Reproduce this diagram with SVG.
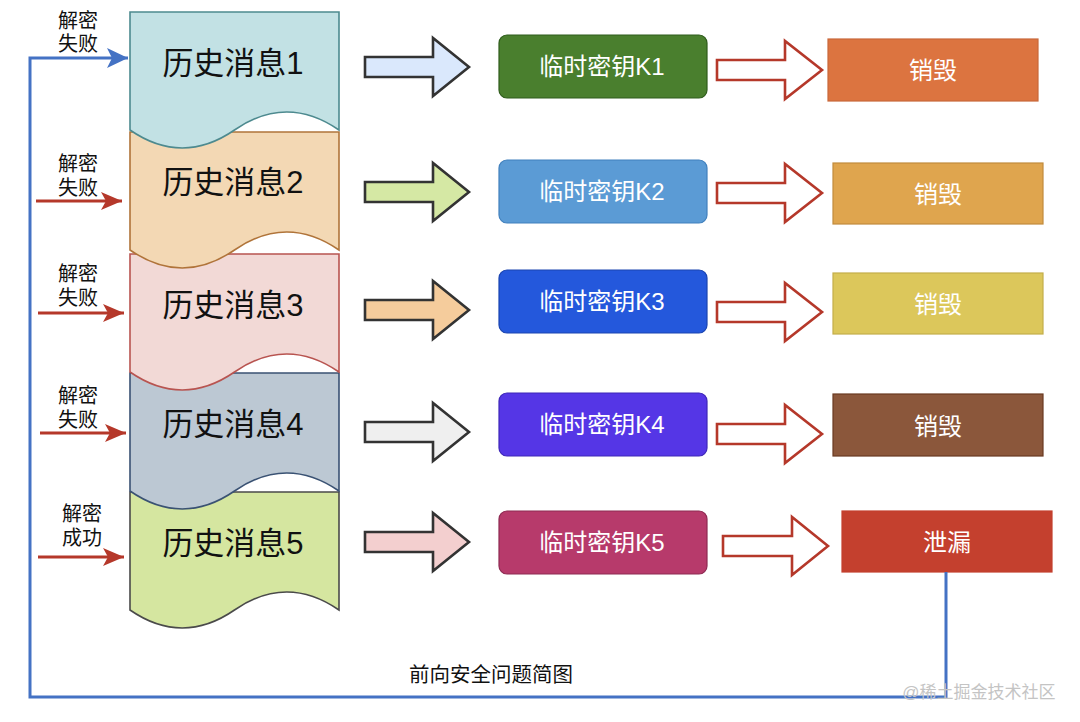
<svg xmlns="http://www.w3.org/2000/svg" width="1080" height="722" viewBox="0 0 1080 722">
<style>
text{font-family:"Liberation Sans","Noto Sans CJK SC",sans-serif;}
.doc{stroke-width:1.6;}
.doctxt{font-size:31px;fill:#111;text-anchor:middle;}
.lbl{font-size:20px;fill:#111;text-anchor:middle;}
.barrow{stroke:#333;stroke-width:2.6;stroke-linejoin:miter;}
.rarrow{fill:#fff;stroke:#b5382a;stroke-width:2.6;}
.key{stroke-width:1.2;}
.keytxt{font-size:24px;fill:#fff;text-anchor:middle;}
.res{stroke-width:1.2;}
.restxt{font-size:24px;fill:#fff;text-anchor:middle;}
.red{stroke:#b5382a;stroke-width:3;fill:none;}
.blue{stroke:#4472c4;stroke-width:3;fill:none;}
</style>
<defs>
<marker id="mr" markerWidth="22" markerHeight="20" refX="21" refY="10" orient="auto" markerUnits="userSpaceOnUse">
<path d="M0,1 L21,10 L0,19 L5,10 Z" fill="#b5382a"/>
</marker>
<marker id="mb" markerWidth="22" markerHeight="22" refX="21" refY="11" orient="auto" markerUnits="userSpaceOnUse">
<path d="M0,1 L21,11 L0,21 L5,11 Z" fill="#4472c4"/>
</marker>
</defs>
<rect width="1080" height="722" fill="#fff"/>

<!-- documents drawn bottom-up so upper waves overlap -->
<g id="msg5">
<path class="doc" d="M130,492 H339 V610 Q286.75,574 234.5,610 Q182.25,646 130,610 Z" fill="#d5e6a0" stroke="#4a4a4a"/>
<text class="doctxt" x="233" y="554">历史消息5</text>
</g>
<g id="msg4">
<path class="doc" d="M130,373 H339 V491 Q286.75,455 234.5,491 Q182.25,527 130,491 Z" fill="#bcc8d3" stroke="#3a5273"/>
<text class="doctxt" x="233" y="435">历史消息4</text>
</g>
<g id="msg3">
<path class="doc" d="M130,254 H339 V372 Q286.75,336 234.5,372 Q182.25,408 130,372 Z" fill="#f2d9d6" stroke="#b85450"/>
<text class="doctxt" x="233" y="316">历史消息3</text>
</g>
<g id="msg2">
<path class="doc" d="M130,132 H339 V250 Q286.75,214 234.5,250 Q182.25,286 130,250 Z" fill="#f3d8b4" stroke="#b0743a"/>
<text class="doctxt" x="233" y="193">历史消息2</text>
</g>
<g id="msg1">
<path class="doc" d="M130,12 H339 V130 Q286.75,94 234.5,130 Q182.25,166 130,130 Z" fill="#c2e1e4" stroke="#4d8a8f"/>
<text class="doctxt" x="233" y="74">历史消息1</text>
</g>

<!-- left labels -->
<g id="labels">
<text class="lbl" x="78" y="28">解密</text><text class="lbl" x="78" y="51">失败</text>
<text class="lbl" x="78" y="171">解密</text><text class="lbl" x="78" y="195">失败</text>
<text class="lbl" x="78" y="281">解密</text><text class="lbl" x="78" y="305">失败</text>
<text class="lbl" x="78" y="403">解密</text><text class="lbl" x="78" y="427">失败</text>
<text class="lbl" x="82" y="521">解密</text><text class="lbl" x="82" y="545">成功</text>
</g>

<!-- block arrows msg -> key -->
<g id="arrow1"><path class="barrow" fill="#dae8fc" d="M365,57 H433 V38 L469,67 L433,96 V77 H365 Z"/></g>
<g id="arrow2"><path class="barrow" fill="#d5e8a4" d="M365,182 H433 V163 L469,192 L433,221 V202 H365 Z"/></g>
<g id="arrow3"><path class="barrow" fill="#f5cc9c" d="M365,300 H433 V281 L469,310 L433,339 V320 H365 Z"/></g>
<g id="arrow4"><path class="barrow" fill="#efefef" d="M365,422 H433 V403 L469,432 L433,461 V442 H365 Z"/></g>
<g id="arrow5"><path class="barrow" fill="#f3cfcf" d="M365,532 H433 V513 L469,542 L433,571 V552 H365 Z"/></g>

<!-- keys -->
<g id="key1"><rect class="key" x="499" y="35" width="208" height="63" rx="8" fill="#4a7f2e" stroke="#2f5c1c"/><text class="keytxt" x="602" y="75">临时密钥K1</text></g>
<g id="key2"><rect class="key" x="499" y="160" width="208" height="63" rx="8" fill="#5b9bd5" stroke="#4180bd"/><text class="keytxt" x="602" y="200">临时密钥K2</text></g>
<g id="key3"><rect class="key" x="499" y="270" width="208" height="63" rx="8" fill="#2458dc" stroke="#1a44b0"/><text class="keytxt" x="602" y="310">临时密钥K3</text></g>
<g id="key4"><rect class="key" x="499" y="393" width="208" height="63" rx="8" fill="#5536e6" stroke="#3e27b8"/><text class="keytxt" x="602" y="433">临时密钥K4</text></g>
<g id="key5"><rect class="key" x="499" y="511" width="208" height="63" rx="8" fill="#b73a6b" stroke="#8e2a52"/><text class="keytxt" x="602" y="551">临时密钥K5</text></g>

<!-- red outline arrows key -> result -->
<g id="rarrow1"><path class="rarrow" d="M717,60 H785 V41 L822,70 L785,99 V80 H717 Z"/></g>
<g id="rarrow2"><path class="rarrow" d="M717,183 H785 V164 L822,193 L785,222 V203 H717 Z"/></g>
<g id="rarrow3"><path class="rarrow" d="M717,302 H785 V283 L822,312 L785,341 V322 H717 Z"/></g>
<g id="rarrow4"><path class="rarrow" d="M717,424 H785 V405 L822,434 L785,463 V444 H717 Z"/></g>
<g id="rarrow5"><path class="rarrow" d="M723,536 H792 V517 L828,546 L792,575 V556 H723 Z"/></g>

<!-- results -->
<g id="res1"><rect class="res" x="828" y="39" width="210" height="62" fill="#dc7440" stroke="#c9683a"/><text class="restxt" x="933" y="79">销毁</text></g>
<g id="res2"><rect class="res" x="833" y="163" width="210" height="61" fill="#dfa54e" stroke="#c18b3c"/><text class="restxt" x="938" y="203">销毁</text></g>
<g id="res3"><rect class="res" x="833" y="273" width="210" height="61" fill="#dcc75b" stroke="#c3ad4a"/><text class="restxt" x="938" y="313">销毁</text></g>
<g id="res4"><rect class="res" x="833" y="394" width="210" height="62" fill="#8b573b" stroke="#6a3a22"/><text class="restxt" x="938" y="435">销毁</text></g>
<g id="res5"><rect class="res" x="842" y="511" width="210" height="61" fill="#c4402e" stroke="#c4402e"/><text class="restxt" x="947" y="551">泄漏</text></g>

<!-- connectors -->
<g id="connectors">
<path class="blue" d="M946,572 V697 H30 V58 H128" marker-end="url(#mb)"/>
<path class="red" d="M36,201 H122" marker-end="url(#mr)"/>
<path class="red" d="M38,313 H124" marker-end="url(#mr)"/>
<path class="red" d="M40,433 H126" marker-end="url(#mr)"/>
<path class="red" d="M38,557 H124" marker-end="url(#mr)"/>
</g>

<text x="491" y="682" font-size="20.5" fill="#111" text-anchor="middle">前向安全问题简图</text>
<text x="979" y="698" font-size="17" fill="#c4c4c4" text-anchor="middle">@稀土掘金技术社区</text>
</svg>
